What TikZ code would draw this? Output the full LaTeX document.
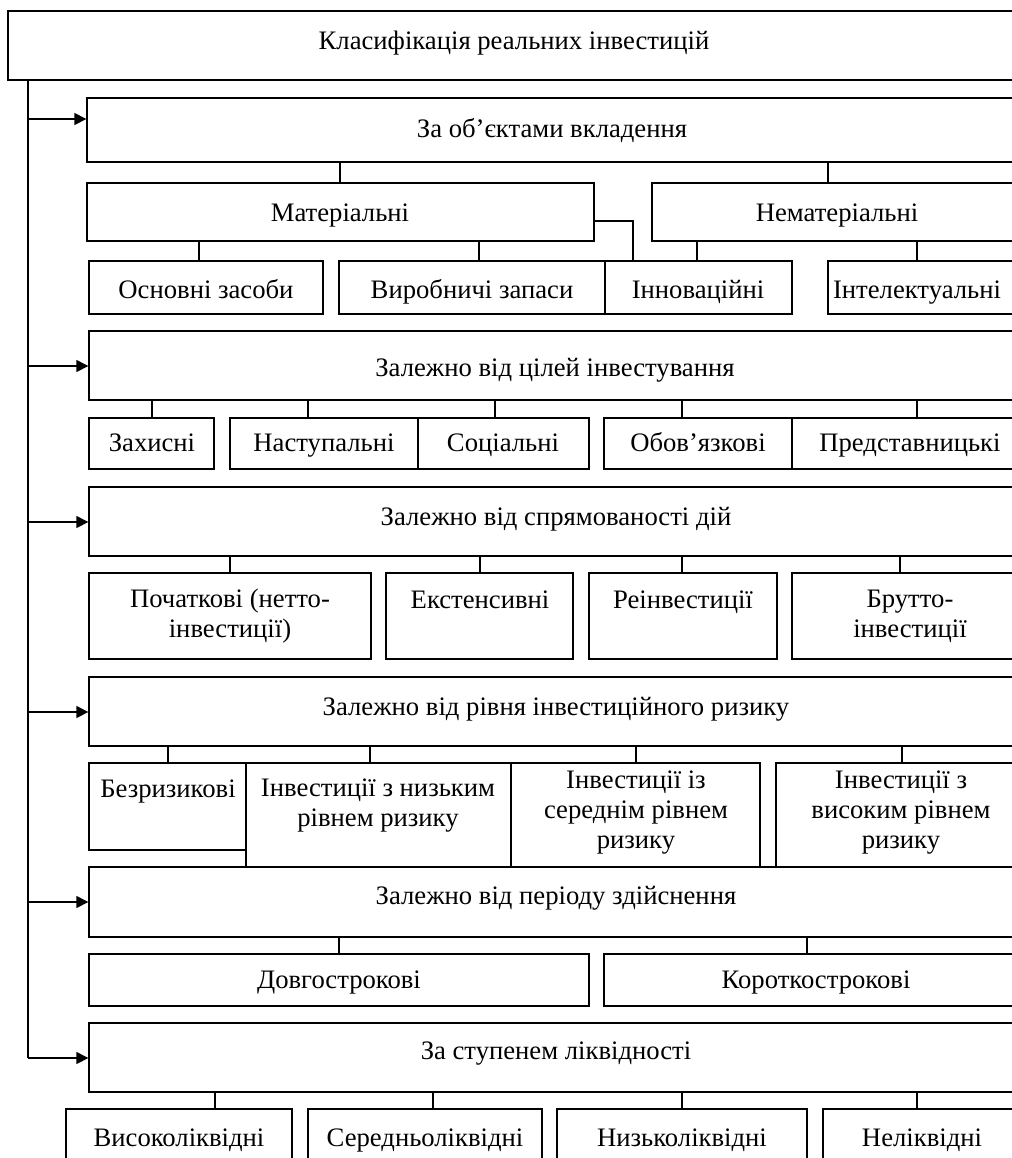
\documentclass[tikz,border=0pt]{standalone}
\usepackage{fontspec}
\setmainfont{Liberation Serif}
\usetikzlibrary{fit,arrows.meta}
\begin{document}
\begin{tikzpicture}[x=0.75pt,y=-0.75pt,
  box/.style={draw, line width=1pt, rectangle, inner sep=0pt},
  txtm/.style={font=\fontsize{20}{22.5}\selectfont, align=center, inner sep=0pt},
  txt/.style={font=\fontsize{20}{22.5}\selectfont, inner sep=0pt, text height=15pt, text depth=3pt},
  conn/.style={line width=0.8pt},
  arr/.style={line width=1pt, -{Triangle[length=9pt,width=9pt]}},
]
\useasboundingbox (0,0) rectangle (1012,1158);
\clip (0,0) rectangle (1012,1158);
\fill[white] (0,0) rectangle (1012,1158);

% ---------- boxes ----------
\node[box, fit={(8,11) (1020,80)}] (root) {};
\node[txt] (roott) at (514,41) {Класифікація реальних інвестицій};

\node[box, fit={(87,98) (1020,162)}] (g1) {};
\node[txt] (g1t) at (552,129) {За об’єктами вкладення};
\node[box, fit={(87,183) (594,241)}] (m1) {};
\node[txt] (m1t) at (340,213) {Матеріальні};
\node[box, fit={(652,183) (1020,241)}] (m2) {};
\node[txt] (m2t) at (837,213) {Нематеріальні};
\node[box, fit={(89,261) (323,314)}] (a1) {};
\node[txt] (a1t) at (206,290) {Основні засоби};
\node[box, fit={(339,261) (605,314)}] (a2) {};
\node[txt] (a2t) at (472,290) {Виробничі запаси};
\node[box, fit={(605,261) (792,314)}] (a3) {};
\node[txt] (a3t) at (698,290) {Інноваційні};
\node[box, fit={(828,261) (1020,314)}] (a4) {};
\node[txt] (a4t) at (917,290) {Інтелектуальні};

\node[box, fit={(89,331) (1020,400)}] (g2) {};
\node[txt] (g2t) at (555,368) {Залежно від цілей інвестування};
\node[box, fit={(89,418) (214,469)}] (b1) {};
\node[txt] (b1t) at (152,443) {Захисні};
\node[box, fit={(230,418) (418,469)}] (b2) {};
\node[txt] (b2t) at (324,443) {Наступальні};
\node[box, fit={(418,418) (589,469)}] (b3) {};
\node[txt] (b3t) at (503,443) {Соціальні};
\node[box, fit={(604,418) (792,469)}] (b4) {};
\node[txt] (b4t) at (698,443) {Обов’язкові};
\node[box, fit={(792,418) (1020,469)}] (b5) {};
\node[txt] (b5t) at (910,443) {Представницькі};

\node[box, fit={(89,487) (1020,556)}] (g3) {};
\node[txt] (g3t) at (556,517) {Залежно від спрямованості дій};
\node[box, fit={(89,573) (371,659)}] (c1) {};
\node[txtm] (c1t) at (230,616) {Початкові (нетто-\\інвестиції)};
\node[box, fit={(386,573) (573,659)}] (c2) {};
\node[txt] (c2t) at (480,600) {Екстенсивні};
\node[box, fit={(589,573) (777,659)}] (c3) {};
\node[txt] (c3t) at (683,600) {Реінвестиції};
\node[box, fit={(792,573) (1020,659)}] (c4) {};
\node[txtm] (c4t) at (910,616) {Брутто-\\інвестиції};

\node[box, fit={(89,677) (1020,746)}] (g4) {};
\node[txt] (g4t) at (556,707) {Залежно від рівня інвестиційного ризику};
\node[box, fit={(89,763) (246,850)}] (d1) {};
\node[txt] (d1t) at (168,789) {Безризикові};
\node[box, fit={(246,763) (511,867)}] (d2) {};
\node[txtm] (d2t) at (378,806) {Інвестиції з низьким\\рівнем ризику};
\node[box, fit={(511,763) (760,867)}] (d3) {};
\node[txtm] (d3t) at (636,813) {Інвестиції із\\середнім рівнем\\ризику};
\node[box, fit={(776,763) (1020,867)}] (d4) {};
\node[txtm] (d4t) at (901,813) {Інвестиції з\\високим рівнем\\ризику};

\node[box, fit={(89,867) (1020,937)}] (g5) {};
\node[txt] (g5t) at (556,896) {Залежно від періоду здійснення};
\node[box, fit={(89,954) (589,1006)}] (e1) {};
\node[txt] (e1t) at (339,980) {Довгострокові};
\node[box, fit={(604,954) (1020,1006)}] (e2) {};
\node[txt] (e2t) at (816,980) {Короткострокові};

\node[box, fit={(89,1023) (1020,1092)}] (g6) {};
\node[txt] (g6t) at (556,1051) {За ступенем ліквідності};
\node[box, fit={(66,1109) (292,1180)}] (f1) {};
\node[txt] (f1t) at (179,1138) {Високоліквідні};
\node[box, fit={(308,1109) (542,1180)}] (f2) {};
\node[txt] (f2t) at (425,1138) {Середньоліквідні};
\node[box, fit={(557,1109) (807,1180)}] (f3) {};
\node[txt] (f3t) at (682,1138) {Низьколіквідні};
\node[box, fit={(823,1109) (1020,1180)}] (f4) {};
\node[txt] (f4t) at (922,1138) {Неліквідні};

% ---------- trunk and arrows ----------
\coordinate (t0) at (28,80);
\coordinate (tend) at (28,1058);
\draw[line width=1pt] (t0) -- (tend);
\foreach \y/\n in {119/g1,366/g2,522/g3,712/g4,902/g5,1058/g6}{
  \draw[arr] (28,\y) -- (\n.west |- 0,\y);
}

% ---------- vertical connectors ----------
\foreach \f/\t/\x in {g1/m1/340, g1/m2/828,
  m1/a1/199, m1/a2/479, m2/a3/697, m2/a4/917,
  g2/b1/152, g2/b2/308, g2/b3/495, g2/b4/682, g2/b5/917,
  g3/c1/230, g3/c2/480, g3/c3/682, g3/c4/900,
  g4/d1/168, g4/d2/370, g4/d3/636, g4/d4/902,
  g5/e1/339, g5/e2/807,
  g6/f1/215, g6/f2/433, g6/f3/682, g6/f4/917}{
  \draw[conn] (\f.south -| \x,0) -- (\t.north -| \x,0);
}
\draw[conn] (m1.east |- 0,221) -| (a3.north -| 633,0);
\end{tikzpicture}
\end{document}
